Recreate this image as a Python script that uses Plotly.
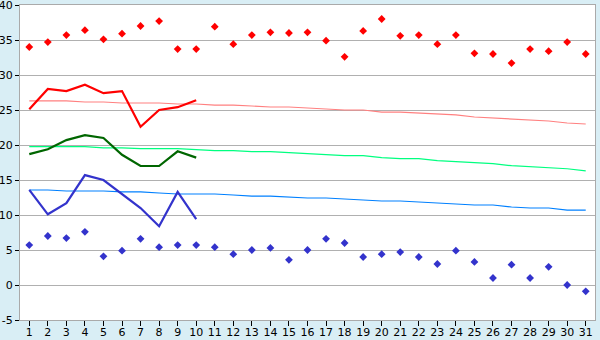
import plotly.graph_objects as go

days = list(range(1, 32))
day_labels = [str(d) for d in days]

max_obs = [34.0, 34.7, 35.7, 36.4, 35.1, 35.9, 37.0, 37.7, 33.7, 33.7,
           36.9, 34.4, 35.7, 36.1, 36.0, 36.1, 34.9, 32.6, 36.3, 38.0,
           35.6, 35.7, 34.4, 35.7, 33.1, 33.0, 31.7, 33.7, 33.4, 34.7, 33.0]
min_obs = [5.7, 7.0, 6.7, 7.6, 4.1, 4.9, 6.6, 5.4, 5.7, 5.7,
           5.4, 4.4, 5.0, 5.3, 3.6, 5.0, 6.6, 6.0, 4.0, 4.4,
           4.7, 4.0, 3.0, 4.9, 3.3, 1.0, 2.9, 1.0, 2.6, 0.0, -0.9]

line_days = list(range(1, 11))
tmax = [25.1, 28.0, 27.7, 28.6, 27.4, 27.7, 22.6, 25.0, 25.4, 26.4]
tmean = [18.7, 19.4, 20.7, 21.4, 21.0, 18.6, 17.0, 17.0, 19.1, 18.2]
tmin = [13.6, 10.1, 11.7, 15.7, 15.0, 13.0, 11.0, 8.4, 13.3, 9.4]

norm_max = [26.29, 26.29, 26.29, 26.14, 26.14, 26.0, 26.0, 26.0, 25.86, 25.86,
            25.7, 25.7, 25.57, 25.43, 25.43, 25.29, 25.14, 25.0, 25.0, 24.71,
            24.71, 24.57, 24.43, 24.29, 24.0, 23.86, 23.71, 23.57, 23.43, 23.14, 23.0]
norm_mean = [19.76, 19.76, 19.76, 19.76, 19.6, 19.6, 19.47, 19.47, 19.47, 19.33,
             19.19, 19.19, 19.04, 19.04, 18.9, 18.76, 18.61, 18.47, 18.47, 18.19,
             18.04, 18.04, 17.76, 17.61, 17.47, 17.33, 17.04, 16.9, 16.76, 16.61, 16.3]
norm_min = [13.57, 13.57, 13.43, 13.43, 13.43, 13.29, 13.29, 13.14, 13.0, 13.0,
            13.0, 12.86, 12.71, 12.71, 12.57, 12.43, 12.43, 12.29, 12.14, 12.0,
            12.0, 11.86, 11.71, 11.57, 11.43, 11.43, 11.14, 11.0, 11.0, 10.71, 10.71]

y_ticks = [-5, 0, 5, 10, 15, 20, 25, 30, 35, 40]
y_labels = ["-5", "0", "5", "10", "15", "20", "25", "30", "35", "40"]

fig = go.Figure()
fig.add_trace(go.Scatter(x=days, y=norm_max, mode="lines", line=dict(color="#ff8080", width=1.2)))
fig.add_trace(go.Scatter(x=days, y=norm_mean, mode="lines", line=dict(color="#00ff80", width=1.2)))
fig.add_trace(go.Scatter(x=days, y=norm_min, mode="lines", line=dict(color="#0080ff", width=1.2)))
fig.add_trace(go.Scatter(x=line_days, y=tmax, mode="lines", line=dict(color="#ff0000", width=2.2)))
fig.add_trace(go.Scatter(x=line_days, y=tmean, mode="lines", line=dict(color="#006600", width=2.2)))
fig.add_trace(go.Scatter(x=line_days, y=tmin, mode="lines", line=dict(color="#3333cc", width=2.2)))
fig.add_trace(go.Scatter(x=days, y=max_obs, mode="markers",
                         marker=dict(symbol="diamond", size=6, color="#ff0000")))
fig.add_trace(go.Scatter(x=days, y=min_obs, mode="markers",
                         marker=dict(symbol="diamond", size=6, color="#3333cc")))

fig.update_layout(
    width=600, height=340,
    margin=dict(l=20, r=5, t=5, b=20),
    paper_bgcolor="#d9eef5",
    plot_bgcolor="#ffffff",
    showlegend=False,
    font=dict(family="DejaVu Sans", size=11, color="#000000"),
)
fig.update_xaxes(
    range=[0.5, 31.5], tickmode="array", tickvals=days, ticktext=day_labels,
    showgrid=False, zeroline=False, ticks="outside", ticklen=5, tickcolor="#000000",
    ticklabelstandoff=-3, ticklabeloverflow="allow", automargin=False,
    showline=True, linecolor="#aaaaaa", linewidth=1, mirror=True,
    tickfont=dict(family="DejaVu Sans", size=11),
)
fig.update_yaxes(
    range=[-5, 40], tickmode="array", tickvals=y_ticks, ticktext=y_labels,
    showgrid=True, gridcolor="#b0b0b0", gridwidth=1, zeroline=False,
    ticks="outside", ticklen=4, tickcolor="#000000", ticklabeloverflow="allow",
    automargin=False,
    showline=True, linecolor="#aaaaaa", linewidth=1, mirror=True,
    tickfont=dict(family="DejaVu Sans", size=11),
)

fig.write_html("out.html")
